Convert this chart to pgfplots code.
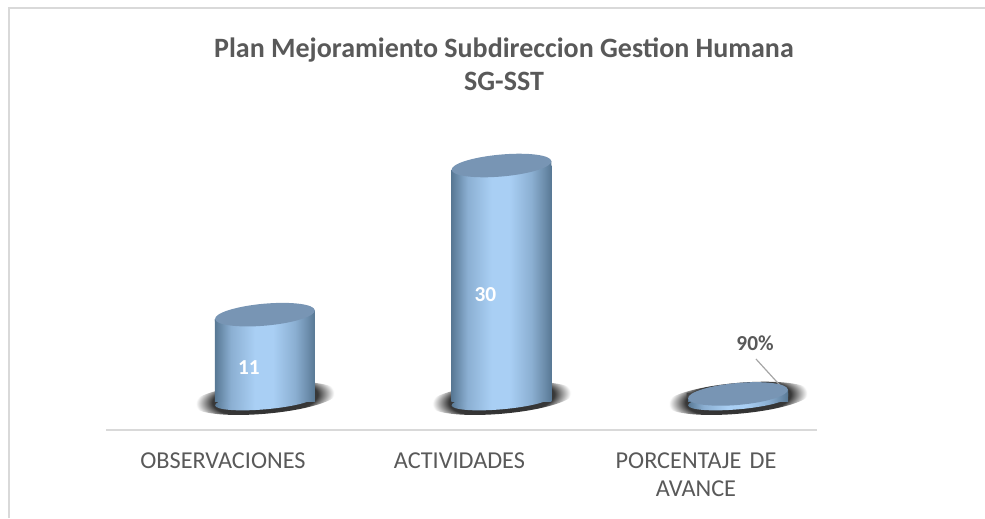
\documentclass[border=0pt]{standalone}
\usepackage{pgfplots}
\pgfplotsset{compat=1.18}
\usepackage{fontspec}
\setmainfont{Carlito}
\definecolor{txt}{HTML}{595959}
\definecolor{frame}{HTML}{D9D9D9}
\definecolor{topc}{HTML}{7895B4}
\definecolor{cylA}{HTML}{587894}
\definecolor{cylB}{HTML}{8BAFD2}
\definecolor{cylC}{HTML}{A9CFF4}
\definecolor{cylD}{HTML}{6E8FAE}
\pgfdeclarehorizontalshading{cyl}{100bp}{
 color(0bp)=(cylA); color(25bp)=(cylA); color(33bp)=(cylB); color(45bp)=(cylC); color(54bp)=(cylC);
 color(65bp)=(cylB); color(71bp)=(cylD); color(75bp)=(cylA); color(100bp)=(cylA)}
\pgfdeclareradialshading{shad}{\pgfpoint{0bp}{0bp}}{
 color(0bp)=(black!85); color(19bp)=(black!78); color(25bp)=(white); color(50bp)=(white)}
\newcommand{\tiltell}[2]{\pgfpathellipse{\pgfqpoint{0pt}{#1}}{\pgfqpoint{37.4pt}{3.3pt}}{\pgfqpoint{-0.7pt}{#2}}}
\pgfdeclareplotmark{shadow}{%
 \pgfpathellipse{\pgfqpoint{0pt}{2pt}}{\pgfqpoint{54.8pt}{4.8pt}}{\pgfqpoint{-1pt}{11.5pt}}%
 \pgfshadepath{shad}{5}\pgfusepath{discard}}
\pgfdeclareplotmark{base}{\tiltell{0pt}{6.2pt}\pgfshadepath{cyl}{0}\pgfusepath{discard}}
\pgfdeclareplotmark{capwhite}{%
 \pgfsetfillcolor{white}%
 \pgfpathmoveto{\pgfqpoint{-38.5pt}{-3.3pt}}\pgfpathlineto{\pgfqpoint{-38.5pt}{1pt}}\pgfpathlineto{\pgfqpoint{0pt}{1pt}}\pgfpathlineto{\pgfqpoint{0pt}{0pt}}\pgfpathclose\pgfusepath{fill}%
 \pgfpathmoveto{\pgfqpoint{-37.5pt}{-3.3pt}}\pgfpathlineto{\pgfqpoint{37.5pt}{3.3pt}}\pgfpathlineto{\pgfqpoint{37.5pt}{-2pt}}\pgfpathlineto{\pgfqpoint{-37.5pt}{-5pt}}\pgfpathclose\pgfshadepath{cyl}{0}\pgfusepath{discard}%
 \pgfsetfillcolor{topc}\tiltell{0pt}{8.2pt}\pgfusepath{fill}}
\pgfdeclareplotmark{capdark}{%
 \pgfsetfillcolor{black!72}%
 \pgfpathmoveto{\pgfqpoint{-38.5pt}{-3.3pt}}\pgfpathlineto{\pgfqpoint{-38.5pt}{1pt}}\pgfpathlineto{\pgfqpoint{0pt}{1pt}}\pgfpathlineto{\pgfqpoint{0pt}{0pt}}\pgfpathclose\pgfusepath{fill}%
 \pgfpathmoveto{\pgfqpoint{-37.5pt}{-3.3pt}}\pgfpathlineto{\pgfqpoint{37.5pt}{3.3pt}}\pgfpathlineto{\pgfqpoint{37.5pt}{-2pt}}\pgfpathlineto{\pgfqpoint{-37.5pt}{-5pt}}\pgfpathclose\pgfshadepath{cyl}{0}\pgfusepath{discard}%
 \pgfsetfillcolor{topc}\tiltell{0pt}{8.2pt}\pgfusepath{fill}}
\pgfplotsset{common/.style={
  at={(79.5pt,66pt)},anchor=south west,
  scale only axis,width=533.25pt,height=217.5pt,
  xmin=-0.672,xmax=2.334,ymin=-3.694,ymax=33.25,clip=false}}
\begin{document}
\begin{tikzpicture}
\path[use as bounding box] (0,0) rectangle (738.75pt,388.5pt);
\draw[frame,line width=1.5pt] (6.75pt,0) -- (6.75pt,382.5pt) -- (738.75pt,382.5pt);
\node[txt,font=\fontsize{21}{24.75}\selectfont\bfseries,align=center] at (378pt,340.1pt)
  {Plan Mejoramiento Subdireccion Gestion Humana\\SG-SST};
\begin{axis}[common,hide axis]
\addplot[only marks,mark=shadow] coordinates {(0,0) (1,0) (2,0)};
\addplot[only marks,mark=base] coordinates {(0,0) (1,0) (2,0)};
\end{axis}
\begin{axis}[common,
  axis y line=none,axis x line=bottom,
  axis line style={frame,line width=1.1pt,-},
  xtick={0,1,2},major tick length=0pt,
  xticklabels={OBSERVACIONES,ACTIVIDADES,{PORCENTAJE DE\\AVANCE}},
  xticklabel style={text=txt,font=\fontsize{18.2}{21}\selectfont,align=center,text width=170pt,xshift=-31.5pt,yshift=-13.75pt},
]
\addplot[ybar,bar width=75pt,draw=none,shading=cyl] coordinates {(0,11)};
\addplot[ybar,bar width=75pt,draw=none,shading=cyl] coordinates {(1,30)};
\addplot[ybar,bar width=75pt,draw=none,shading=cyl] coordinates {(2,0.9)};
\addplot[only marks,mark=capwhite] coordinates {(0,11) (1,30)};
\addplot[only marks,mark=capdark] coordinates {(2,0.9)};
\addplot[no marks,color=black!35,line width=0.9pt] coordinates {(2.076,5.35) (2.207,1.02)};
\node[white,font=\fontsize{16}{16}\selectfont\bfseries] at (axis cs:-0.068,4.2) {11};
\node[white,font=\fontsize{16}{16}\selectfont\bfseries] at (axis cs:-0.068+1,13.5) {30};
\node[txt,font=\fontsize{16}{16}\selectfont\bfseries] at (axis cs:2.072,7.4) {90\%};
\end{axis}
\end{tikzpicture}
\end{document}
